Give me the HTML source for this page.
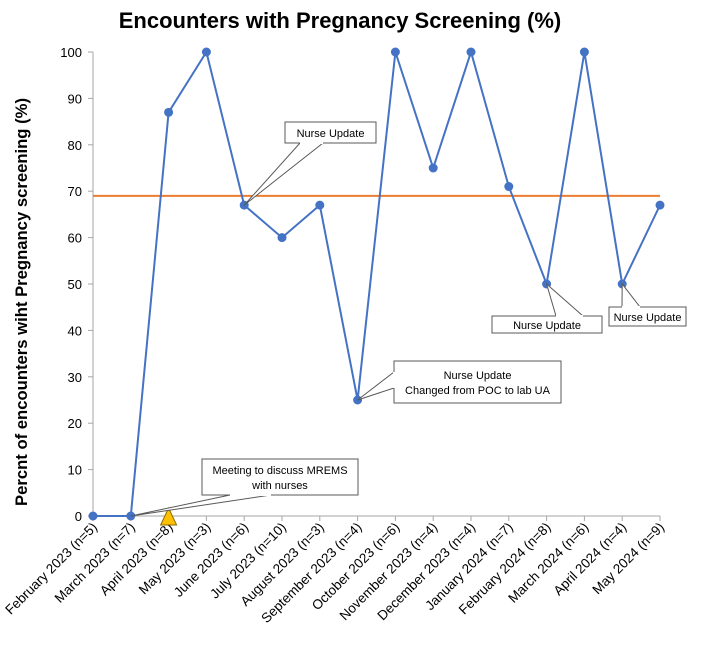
<!DOCTYPE html>
<html><head><meta charset="utf-8"><style>
body{margin:0;background:#fff;font-family:"Liberation Sans",sans-serif}
svg text{font-family:"Liberation Sans",sans-serif}
</style></head><body>
<svg id="chart" width="704" height="650" xmlns="http://www.w3.org/2000/svg">
<text x="340" y="28" text-anchor="middle" font-size="22" font-weight="bold">Encounters with Pregnancy Screening (%)</text>
<text transform="translate(27,302) rotate(-90)" text-anchor="middle" font-size="17" font-weight="bold" textLength="408" lengthAdjust="spacingAndGlyphs">Percnt of encounters wiht Pregnancy screening (%)</text>
<g id="axes"></g><g id="marks"></g><g id="notes"></g>
</svg>
<script>
const categories=["February 2023 (n=5)","March 2023 (n=7)","April 2023 (n=8)","May 2023 (n=3)","June 2023 (n=6)","July 2023 (n=10)","August 2023 (n=3)","September 2023 (n=4)","October 2023 (n=6)","November 2023 (n=4)","December 2023 (n=4)","January 2024 (n=7)","February 2024 (n=8)","March 2024 (n=6)","April 2024 (n=4)","May 2024 (n=9)"];
const values=[0,0,87,100,67,60,67,25,100,75,100,71,50,100,50,67];
const yTicks=[0,10,20,30,40,50,60,70,80,90,100];
const median=[69];
const NS="http://www.w3.org/2000/svg";
const x0=93,x1=660,yb=516,yt=52;
const X=i=>x0+i*(x1-x0)/(categories.length-1);
const Y=v=>yb-(v/100)*(yb-yt);
function mk(tag,attrs,parent,txt){const e=document.createElementNS(NS,tag);for(const k in attrs)e.setAttribute(k,attrs[k]);if(txt!=null)e.textContent=txt;parent.appendChild(e);return e;}
const ax=document.getElementById('axes'),mg=document.getElementById('marks'),ng=document.getElementById('notes');
let l=mk('line',{x1:x0,y1:yt,x2:x0,y2:yb,stroke:'#a6a6a6'},ax);


l=mk('line',{x1:x0,y1:yb,x2:x1,y2:yb,stroke:'#a6a6a6'},ax);


yTicks.forEach(v=>{
 mk('line',{x1:x0-5,y1:Y(v),x2:x0,y2:Y(v),stroke:'#a6a6a6'},ax);
 const t=mk('text',{x:x0-11,y:Y(v)+5,'text-anchor':'end','font-size':13,fill:'#000'},ax,v);
 
 
});
categories.forEach((c,i)=>{
 mk('line',{x1:X(i),y1:yb,x2:X(i),y2:yb+5,stroke:'#a6a6a6'},ax);
 const t=mk('text',{transform:`translate(${X(i)+5},${yb+12}) rotate(-45)`,'text-anchor':'end','font-size':13.5,fill:'#000'},ax,c);
 
 
});
const ml=mk('line',{x1:x0,y1:Y(median[0]),x2:x1,y2:Y(median[0]),stroke:'#ed7d31','stroke-width':2},mg);


const pl=mk('polyline',{points:values.map((v,i)=>X(i)+','+Y(v)).join(' '),fill:'none',stroke:'#4472c4','stroke-width':2},mg);


values.forEach((v,i)=>{
 const c=mk('circle',{cx:X(i),cy:Y(v),r:4.5,fill:'#4472c4'},mg);
 
 
});
const tri=mk('polygon',{points:`${X(2)},${yb-8} ${X(2)-8},${yb+9} ${X(2)+8},${yb+9}`,fill:'#ffc000',stroke:'#8a6d00','stroke-width':1},mg);


function note(idx,bx,by,bw,bh,wa,wb,wy,lines,name){
 const g=mk('g',{},ng);
 
 
 mk('rect',{x:bx,y:by,width:bw,height:bh,fill:'#fff',stroke:'#595959','stroke-width':1},g);
 mk('polygon',{points:`${X(idx)},${Y(values[idx])} ${wa[0]},${wa[1]} ${wb[0]},${wb[1]}`,fill:'#fff',stroke:'#595959','stroke-width':1},g);
 mk('line',{x1:wa[0],y1:wa[1],x2:wb[0],y2:wb[1],stroke:'#fff','stroke-width':2},g);
 lines.forEach((s,k)=>mk('text',{x:bx+bw/2,y:by+(bh-lines.length*15)/2+12+k*15,'text-anchor':'middle','font-size':11},g,s));
}
note(4,285,122,91,21,[300,143],[323,143],0,["Nurse Update"],'callout-june');
note(7,394,361,167,42,[394,372],[394,388],0,["Nurse Update","Changed from POC to lab UA"],'callout-september');
note(12,492,316,110,17,[556,316],[583,316],0,["Nurse Update"],'callout-feb-2024');
note(14,609,307,77,19,[622,307],[640,307],0,["Nurse Update"],'callout-apr-2024');
note(1,202,459,156,36,[230,495],[271,495],0,["Meeting to discuss MREMS","with nurses"],'callout-march');
</script>
</body></html>
